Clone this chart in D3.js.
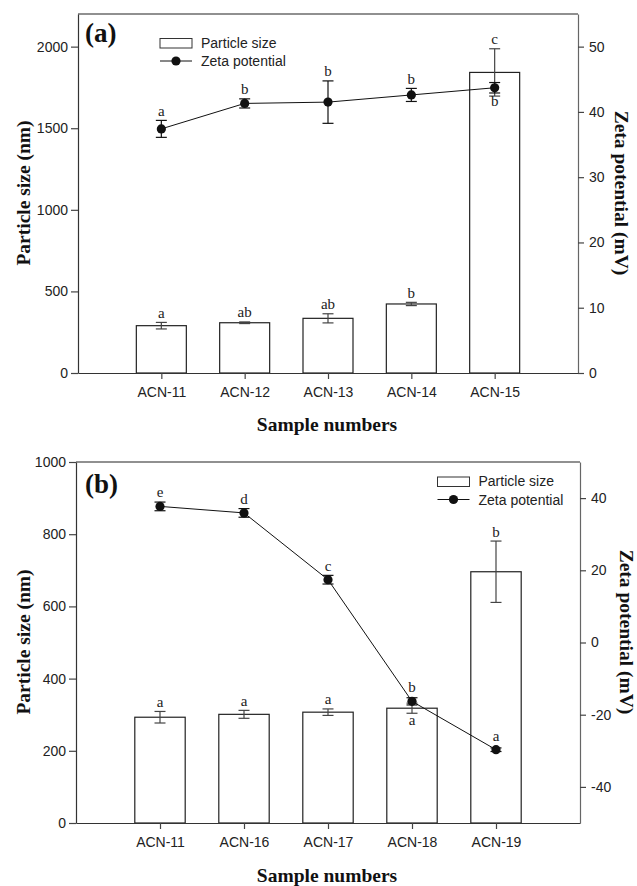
<!DOCTYPE html>
<html>
<head>
<meta charset="utf-8">
<script src="https://cdn.jsdelivr.net/npm/d3@7"></script>
<style>
  html, body { margin: 0; padding: 0; background: #fff; }
  svg { display: block; }
</style>
</head>
<body>
<svg id="chart" width="637" height="886"></svg>
<script>
// ---------- Panel (a) data ----------
const samplesA = ["ACN-11", "ACN-12", "ACN-13", "ACN-14", "ACN-15"];
const sizeA = [290, 308, 335, 423, 1842];
const sizeErrA = [20, 5, 28, 10, 145];
const sizeLettersA = ["a", "ab", "ab", "b", "c"];
const sizeLetterPosA = ["above", "above", "above", "above", "above"];
const zetaA = [37.4, 41.3, 41.5, 42.6, 43.7];
const zetaErrA = [1.3, 0.7, 3.25, 1.0, 0.8];
const zetaLettersA = ["a", "b", "b", "b", "b"];
const zetaLetterPosA = ["above", "above", "above", "above", "below"];
const sizeTicksA = [0, 500, 1000, 1500, 2000];
const zetaTicksA = [0, 10, 20, 30, 40, 50];
const sizeDomainA = [0, 2200];
const zetaDomainA = [0, 55];

// ---------- Panel (b) data ----------
const samplesB = ["ACN-11", "ACN-16", "ACN-17", "ACN-18", "ACN-19"];
const sizeB = [293, 301, 307, 318, 696];
const sizeErrB = [16, 11, 9, 14, 85];
const sizeLettersB = ["a", "a", "a", "a", "b"];
const sizeLetterPosB = ["above", "above", "above", "below", "above"];
const zetaB = [37.7, 35.9, 17.4, -16.3, -29.7];
const zetaErrB = [1.2, 1.2, 1.2, 1.0, 0.5];
const zetaLettersB = ["e", "d", "c", "b", "a"];
const zetaLetterPosB = ["above", "above", "above", "above", "above"];
const sizeTicksB = [0, 200, 400, 600, 800, 1000];
const zetaTicksB = [-40, -20, 0, 20, 40];
const sizeDomainB = [0, 1000];
const zetaDomainB = [-50, 50];

const legendLabels = ["Particle size", "Zeta potential"];
const xTitle = "Sample numbers";
const yLeftTitle = "Particle size (nm)";
const yRightTitle = "Zeta potential (mV)";

const svg = d3.select("#chart");
const SANS = "'Liberation Sans', Arial, sans-serif";
const SERIF = "'Liberation Serif', 'Times New Roman', serif";
const plainFmt = d => String(d);

function drawPanel(p) {
  const g = svg.append("g");
  const x = d3.scalePoint().domain(p.samples).range([p.left, p.right]).padding(1);
  const step = x.step();
  const bw = step * 0.6;
  const yS = d3.scaleLinear().domain(p.sizeDomain).range([p.bottom, p.top]);
  const yZ = d3.scaleLinear().domain(p.zetaDomain).range([p.bottom, p.top]);

  // frame top line
  g.append("line").attr("x1", p.left).attr("x2", p.right)
    .attr("y1", p.top).attr("y2", p.top)
    .attr("stroke", "#222").attr("stroke-width", 1.2);

  const bars = p.samples.map((s, i) => ({s, v: p.size[i], e: p.sizeErr[i],
    lt: p.sizeLetters[i], lp: p.sizeLetterPos[i], z: p.zeta[i], ze: p.zetaErr[i],
    zl: p.zetaLetters[i], zp: p.zetaLetterPos[i]}));

  g.selectAll("rect.bar").data(bars).enter().append("rect")
    .attr("class", "bar")
    .attr("x", d => x(d.s) - bw / 2)
    .attr("width", bw)
    .attr("y", d => yS(d.v))
    .attr("height", d => yS(0) - yS(d.v))
    .attr("fill", "#fff").attr("stroke", "#222").attr("stroke-width", 1.2);

  const cap = 5.5;
  const be = g.selectAll("g.berr").data(bars).enter().append("g")
    .attr("stroke", "#444").attr("stroke-width", 1.2);
  be.append("line").attr("x1", d => x(d.s)).attr("x2", d => x(d.s))
    .attr("y1", d => yS(d.v + d.e)).attr("y2", d => yS(d.v - d.e));
  be.append("line").attr("x1", d => x(d.s) - cap).attr("x2", d => x(d.s) + cap)
    .attr("y1", d => yS(d.v + d.e)).attr("y2", d => yS(d.v + d.e));
  be.append("line").attr("x1", d => x(d.s) - cap).attr("x2", d => x(d.s) + cap)
    .attr("y1", d => yS(d.v - d.e)).attr("y2", d => yS(d.v - d.e));

  g.append("path").datum(bars)
    .attr("d", d3.line().x(d => x(d.s)).y(d => yZ(d.z)))
    .attr("fill", "none").attr("stroke", "#111").attr("stroke-width", 1);

  const ze = g.selectAll("g.zerr").data(bars).enter().append("g")
    .attr("stroke", "#111").attr("stroke-width", 1.2);
  ze.append("line").attr("x1", d => x(d.s)).attr("x2", d => x(d.s))
    .attr("y1", d => yZ(d.z + d.ze)).attr("y2", d => yZ(d.z - d.ze));
  ze.append("line").attr("x1", d => x(d.s) - cap).attr("x2", d => x(d.s) + cap)
    .attr("y1", d => yZ(d.z + d.ze)).attr("y2", d => yZ(d.z + d.ze));
  ze.append("line").attr("x1", d => x(d.s) - cap).attr("x2", d => x(d.s) + cap)
    .attr("y1", d => yZ(d.z - d.ze)).attr("y2", d => yZ(d.z - d.ze));

  g.selectAll("circle.z").data(bars).enter().append("circle")
    .attr("cx", d => x(d.s)).attr("cy", d => yZ(d.z)).attr("r", 4.6)
    .attr("fill", "#111");

  const letterStyle = sel => sel.attr("font-family", SERIF).attr("font-size", 15)
    .attr("fill", "#222").attr("text-anchor", "middle");
  g.selectAll("text.bl").data(bars).enter().append("text")
    .call(letterStyle)
    .attr("x", d => x(d.s))
    .attr("y", d => d.lp === "above" ? yS(d.v + d.e) - 4.5 : yS(d.v - d.e) + 12)
    .text(d => d.lt);
  g.selectAll("text.zl").data(bars).enter().append("text")
    .call(letterStyle)
    .attr("x", d => x(d.s))
    .attr("y", d => d.zp === "above" ? Math.min(yZ(d.z + d.ze), yZ(d.z) - 4.6) - 4.5
                                     : yZ(d.z - d.ze) + 13)
    .text(d => d.zl);

  const ax = g.append("g").attr("transform", `translate(0,${p.bottom})`)
    .call(d3.axisBottom(x).tickSize(6).tickSizeOuter(0).tickPadding(8));
  const al = g.append("g").attr("transform", `translate(${p.left},0)`)
    .call(d3.axisLeft(yS).tickValues(p.sizeTicks).tickFormat(plainFmt)
      .tickSize(7).tickSizeOuter(0).tickPadding(3));
  const ar = g.append("g").attr("transform", `translate(${p.right},0)`)
    .call(d3.axisRight(yZ).tickValues(p.zetaTicks).tickFormat(plainFmt)
      .tickSize(6).tickSizeOuter(0).tickPadding(5));
  [ax, al, ar].forEach(a => {
    a.selectAll("text").attr("font-family", SANS).attr("font-size", 14).attr("fill", "#222");
    a.selectAll("line").attr("stroke", "#444").attr("stroke-width", 1.2);
    a.select(".domain").attr("stroke", "#333").attr("stroke-width", 1.2);
  });
  ar.select(".domain").attr("stroke", "#666");

  g.append("text").attr("x", 85).attr("y", p.labelY)
    .attr("font-family", SERIF).attr("font-weight", "bold").attr("font-size", 27)
    .attr("fill", "#111").text(p.label);

  const lg = g.append("g");
  lg.append("rect").attr("x", p.legX).attr("y", p.legY).attr("width", 32).attr("height", 9.5)
    .attr("fill", "#fff").attr("stroke", "#333").attr("stroke-width", 1);
  lg.append("line").attr("x1", p.legX).attr("x2", p.legX + 32)
    .attr("y1", p.legY + 22.5).attr("y2", p.legY + 22.5).attr("stroke", "#111").attr("stroke-width", 1);
  lg.append("circle").attr("cx", p.legX + 16).attr("cy", p.legY + 22.5).attr("r", 4.6).attr("fill", "#111");
  lg.selectAll("text").data(legendLabels).enter().append("text")
    .attr("x", p.legX + 41).attr("y", (d, i) => p.legY + 9 + i * 18.5)
    .attr("font-family", SANS).attr("font-size", 14).attr("fill", "#222").text(d => d);

  const titleStyle = sel => sel.attr("font-family", SERIF).attr("font-weight", "bold")
    .attr("font-size", 19.5).attr("fill", "#111").attr("text-anchor", "middle");
  g.append("text").call(titleStyle)
    .attr("x", (p.left + p.right) / 2 - 1).attr("y", p.xTitleY).text(xTitle);
  g.append("text").call(titleStyle)
    .attr("transform", `translate(30,${p.yLeftTitleC}) rotate(-90)`).text(yLeftTitle);
  g.append("text").call(titleStyle)
    .attr("transform", `translate(${p.yRightTitleX},${p.yRightTitleC}) rotate(90)`).text(yRightTitle);
}

drawPanel({
  samples: samplesA, size: sizeA, sizeErr: sizeErrA, sizeLetters: sizeLettersA,
  sizeLetterPos: sizeLetterPosA, zeta: zetaA, zetaErr: zetaErrA, zetaLetters: zetaLettersA,
  zetaLetterPos: zetaLetterPosA, sizeTicks: sizeTicksA, zetaTicks: zetaTicksA,
  sizeDomain: sizeDomainA, zetaDomain: zetaDomainA,
  left: 78, right: 578, top: 14, bottom: 373, label: "(a)", labelY: 42,
  legX: 160, legY: 38.5, xTitleY: 431, yLeftTitleC: 193, yRightTitleX: 615, yRightTitleC: 193
});
drawPanel({
  samples: samplesB, size: sizeB, sizeErr: sizeErrB, sizeLetters: sizeLettersB,
  sizeLetterPos: sizeLetterPosB, zeta: zetaB, zetaErr: zetaErrB, zetaLetters: zetaLettersB,
  zetaLetterPos: zetaLetterPosB, sizeTicks: sizeTicksB, zetaTicks: zetaTicksB,
  sizeDomain: sizeDomainB, zetaDomain: zetaDomainB,
  left: 76, right: 580, top: 462, bottom: 823, label: "(b)", labelY: 493,
  legX: 437.5, legY: 477, xTitleY: 882, yLeftTitleC: 642, yRightTitleX: 620, yRightTitleC: 632
});
</script>
</body>
</html>
